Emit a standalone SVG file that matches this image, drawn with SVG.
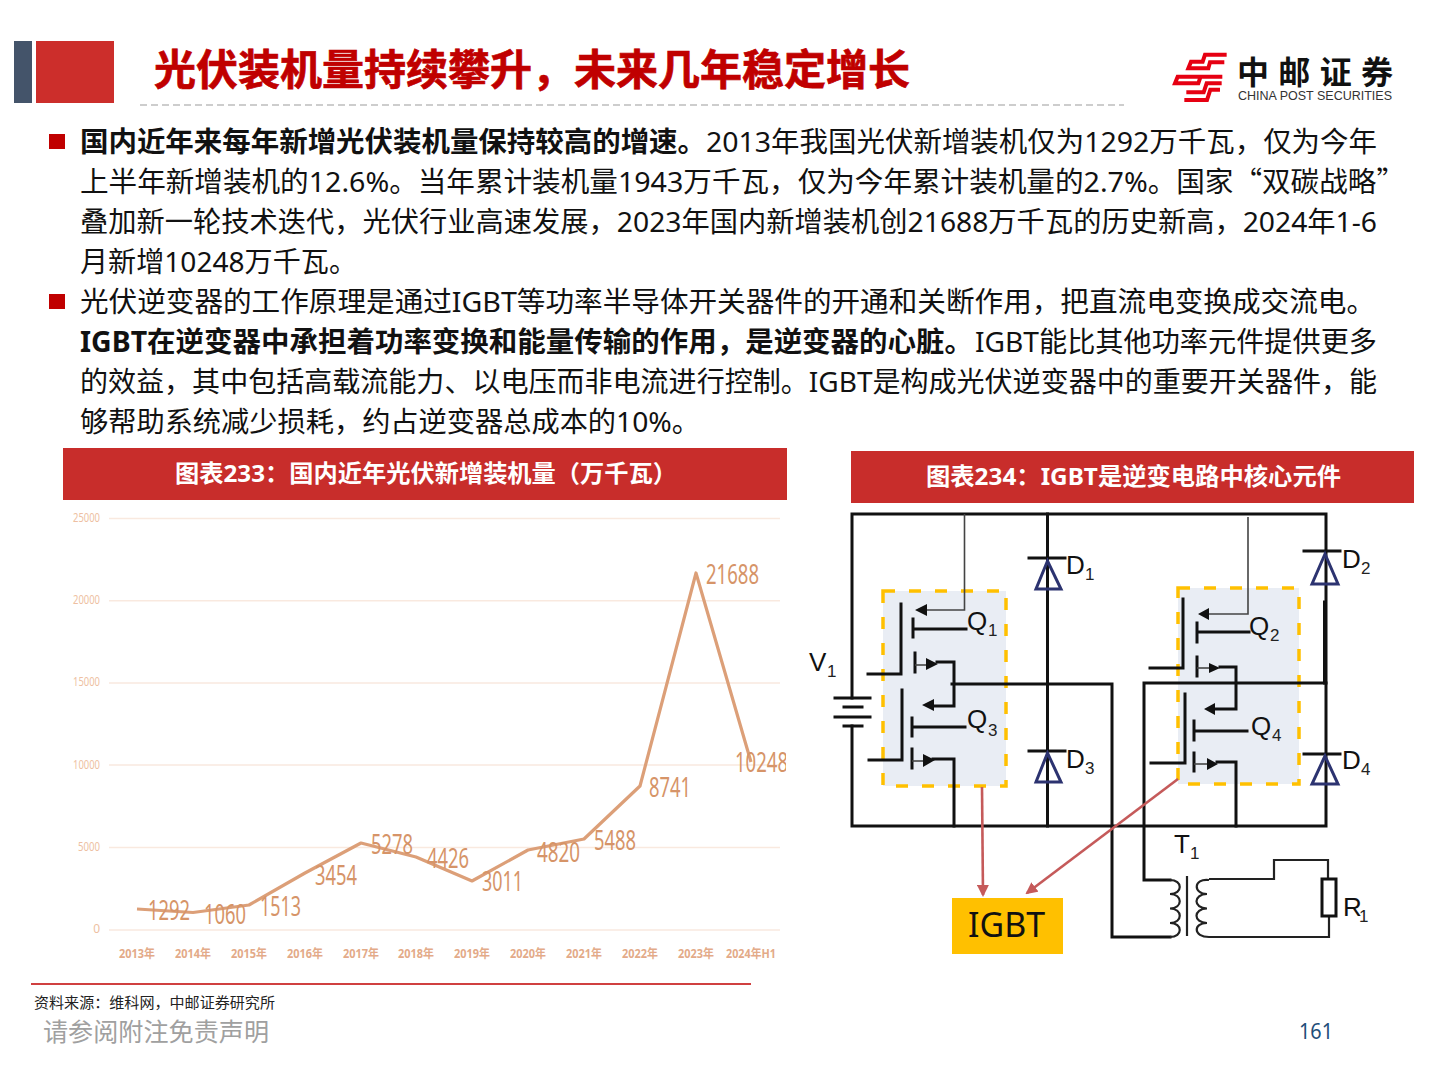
<svg xmlns="http://www.w3.org/2000/svg" width="1440" height="1080" viewBox="0 0 1440 1080">
<style>
text{font-family:"Noto Sans","Noto Sans CJK SC",sans-serif}
.b{font-size:28px;fill:#111}
.bb{font-size:28px;fill:#111;font-weight:700}
.q{font-family:"Noto Sans CJK SC",sans-serif}
.hd{font-size:24px;font-weight:700;fill:#fff}
.grid{stroke:#f9e9df;stroke-width:1.5}
.yl{font-size:12px;fill:#eebfa2;text-anchor:end}
.xl{font-size:12px;font-weight:700;fill:#e3aa88;text-anchor:middle}
.val{font-size:27px;fill:#d69468}
.w{fill:none;stroke:#111;stroke-width:3;stroke-linecap:square;stroke-linejoin:miter}
.thin{fill:none;stroke:#444;stroke-width:1.6}
.wt{fill:none;stroke:#222;stroke-width:2.2}
.box{fill:#e9edf4;stroke:#ffc000;stroke-width:3.5;stroke-dasharray:12 14}
.d{fill:none;stroke:#2c3370;stroke-width:3}
.ar{fill:#111}
.l{font-family:"Liberation Sans",sans-serif;font-size:26px;fill:#111}
.s{font-family:"Liberation Sans",sans-serif;font-size:17px;fill:#222}
.red{fill:none;stroke:#c55a5a;stroke-width:2.6;marker-end:url(#rh)}
.logo{fill:none;stroke:#e60012;stroke-width:12}
</style>
<defs>
<marker id="rh" viewBox="0 0 12 12" refX="10" refY="6" markerWidth="12" markerHeight="12" markerUnits="userSpaceOnUse" orient="auto"><path d="M0 0L12 6L0 12Z" fill="#c55a5a"/></marker>
<clipPath id="cl"><rect x="60" y="510" width="726" height="460"/></clipPath>
</defs>
<rect width="1440" height="1080" fill="#fff"/>

<g id="title-bar">
<rect x="14" y="41" width="18" height="62" fill="#44546a"/>
<rect x="36" y="41" width="78" height="62" fill="#cc2e2b"/>
<text x="154" y="85" font-size="42" font-weight="700" fill="#c00000" stroke="#c00000" stroke-width=".7" textLength="756" lengthAdjust="spacingAndGlyphs">光伏装机量持续攀升，未来几年稳定增长</text>
<line x1="140" y1="105" x2="1124" y2="105" stroke="#bdbdbd" stroke-width="1.5" stroke-dasharray="7 4"/>
</g>

<g id="logo">
<g transform="translate(1165 45) scale(.3333)">
<path class="logo" d="M185 29L120 29L113 50L78 50L70 70L130 70L135 52L178 52"/>
<path class="logo" d="M172 95L38 95L30 115L100 115L106 97"/>
<path class="logo" d="M170 115L125 115L116 142L64 142"/>
<path class="logo" d="M165 134L136 134L126 165L58 165"/>
</g>
<text x="1237" y="84" font-size="32" font-weight="700" fill="#111" textLength="156">中邮证券</text>
<text x="1238" y="100" font-size="12.5" fill="#333" style="font-family:'Liberation Sans',sans-serif" textLength="154" lengthAdjust="spacingAndGlyphs">CHINA POST SECURITIES</text>
</g>

<g id="body-text">
<rect x="49" y="134" width="16" height="15" fill="#c00000"/>
<rect x="49" y="294" width="16" height="15" fill="#c00000"/>
<text class="bb" x="80" y="152" textLength="626" lengthAdjust="spacingAndGlyphs">国内近年来每年新增光伏装机量保持较高的增速。</text>
<text class="b" x="706" y="152" textLength="671" lengthAdjust="spacingAndGlyphs">2013年我国光伏新增装机仅为1292万千瓦，仅为今年</text>
<text class="b" x="80" y="192" textLength="1325" lengthAdjust="spacingAndGlyphs">上半年新增装机的12.6%。当年累计装机量1943万千瓦，仅为今年累计装机量的2.7%。国家<tspan class="q">“</tspan>双碳战略<tspan class="q">”</tspan></text>
<text class="b" x="80" y="232" textLength="1297" lengthAdjust="spacingAndGlyphs">叠加新一轮技术迭代，光伏行业高速发展，2023年国内新增装机创21688万千瓦的历史新高，2024年1-6</text>
<text class="b" x="80" y="272" textLength="277" lengthAdjust="spacingAndGlyphs">月新增10248万千瓦。</text>
<text class="b" x="80" y="312" textLength="1295" lengthAdjust="spacingAndGlyphs">光伏逆变器的工作原理是通过IGBT等功率半导体开关器件的开通和关断作用，把直流电变换成交流电。</text>
<text class="bb" x="80" y="352" textLength="893" lengthAdjust="spacingAndGlyphs">IGBT在逆变器中承担着功率变换和能量传输的作用，是逆变器的心脏。</text>
<text class="b" x="975" y="352" textLength="402" lengthAdjust="spacingAndGlyphs">IGBT能比其他功率元件提供更多</text>
<text class="b" x="80" y="392" textLength="1297" lengthAdjust="spacingAndGlyphs">的效益，其中包括高载流能力、以电压而非电流进行控制。IGBT是构成光伏逆变器中的重要开关器件，能</text>
<text class="b" x="80" y="432" textLength="620" lengthAdjust="spacingAndGlyphs">够帮助系统减少损耗，约占逆变器总成本的10%。</text>
</g>

<g id="header-233">
<rect x="63" y="448" width="724" height="52" fill="#c82d2b"/>
<text class="hd" x="175" y="482" textLength="502" lengthAdjust="spacingAndGlyphs">图表233：国内近年光伏新增装机量（万千瓦）</text>
</g>
<g id="header-234">
<rect x="851" y="451" width="563" height="52" fill="#c82d2b"/>
<text class="hd" x="926" y="485" textLength="415" lengthAdjust="spacingAndGlyphs">图表234：IGBT是逆变电路中核心元件</text>
</g>

<g id="chart" clip-path="url(#cl)">
<g id="grid">
<line class="grid" x1="109" y1="518.5" x2="780" y2="518.5"/>
<line class="grid" x1="109" y1="600.7" x2="780" y2="600.7"/>
<line class="grid" x1="109" y1="683" x2="780" y2="683"/>
<line class="grid" x1="109" y1="765" x2="780" y2="765"/>
<line class="grid" x1="109" y1="847.5" x2="780" y2="847.5"/>
<line class="grid" x1="109" y1="930" x2="780" y2="930"/>
</g>
<g id="y-axis">
<text class="yl" x="100" y="522" textLength="27" lengthAdjust="spacingAndGlyphs">25000</text>
<text class="yl" x="100" y="604" textLength="27" lengthAdjust="spacingAndGlyphs">20000</text>
<text class="yl" x="100" y="686" textLength="27" lengthAdjust="spacingAndGlyphs">15000</text>
<text class="yl" x="100" y="769" textLength="27" lengthAdjust="spacingAndGlyphs">10000</text>
<text class="yl" x="100" y="851" textLength="22" lengthAdjust="spacingAndGlyphs">5000</text>
<text class="yl" x="100" y="933">0</text>
</g>
<g id="x-axis">
<text class="xl" x="137" y="958" textLength="36" lengthAdjust="spacingAndGlyphs">2013年</text>
<text class="xl" x="193" y="958" textLength="36" lengthAdjust="spacingAndGlyphs">2014年</text>
<text class="xl" x="249" y="958" textLength="36" lengthAdjust="spacingAndGlyphs">2015年</text>
<text class="xl" x="305" y="958" textLength="36" lengthAdjust="spacingAndGlyphs">2016年</text>
<text class="xl" x="361" y="958" textLength="36" lengthAdjust="spacingAndGlyphs">2017年</text>
<text class="xl" x="416" y="958" textLength="36" lengthAdjust="spacingAndGlyphs">2018年</text>
<text class="xl" x="472" y="958" textLength="36" lengthAdjust="spacingAndGlyphs">2019年</text>
<text class="xl" x="528" y="958" textLength="36" lengthAdjust="spacingAndGlyphs">2020年</text>
<text class="xl" x="584" y="958" textLength="36" lengthAdjust="spacingAndGlyphs">2021年</text>
<text class="xl" x="640" y="958" textLength="36" lengthAdjust="spacingAndGlyphs">2022年</text>
<text class="xl" x="696" y="958" textLength="36" lengthAdjust="spacingAndGlyphs">2023年</text>
<text class="xl" x="751" y="958" textLength="50" lengthAdjust="spacingAndGlyphs">2024年H1</text>
</g>
<polyline id="series" points="137,909 193,912.5 249,905 305,873 361,843 416,857 472,881 528,850 584,839 640,786 696,573 751,762" fill="none" stroke="#dc9f78" stroke-width="3.2" stroke-linejoin="round"/>
<g id="values">
<text class="val" x="148" y="920" textLength="42" lengthAdjust="spacingAndGlyphs">1292</text>
<text class="val" x="204" y="924" textLength="42" lengthAdjust="spacingAndGlyphs">1060</text>
<text class="val" x="260" y="916" textLength="41" lengthAdjust="spacingAndGlyphs">1513</text>
<text class="val" x="315" y="885" textLength="42" lengthAdjust="spacingAndGlyphs">3454</text>
<text class="val" x="371" y="854" textLength="42" lengthAdjust="spacingAndGlyphs">5278</text>
<text class="val" x="427" y="868" textLength="42" lengthAdjust="spacingAndGlyphs">4426</text>
<text class="val" x="482" y="891" textLength="41" lengthAdjust="spacingAndGlyphs">3011</text>
<text class="val" x="537" y="862" textLength="43" lengthAdjust="spacingAndGlyphs">4820</text>
<text class="val" x="594" y="850" textLength="42" lengthAdjust="spacingAndGlyphs">5488</text>
<text class="val" x="649" y="797" textLength="42" lengthAdjust="spacingAndGlyphs">8741</text>
<text class="val" x="706" y="584" textLength="53" lengthAdjust="spacingAndGlyphs">21688</text>
<text class="val" x="735" y="772" textLength="53" lengthAdjust="spacingAndGlyphs">10248</text>
</g>
</g>

<g id="footer">
<line x1="31" y1="984" x2="751" y2="984" stroke="#c00000" stroke-width="1.6"/>
<text x="34" y="1008" font-size="15" fill="#222" textLength="241" lengthAdjust="spacingAndGlyphs">资料来源：维科网，中邮证券研究所</text>
<text x="43" y="1041" font-size="25" fill="#a0a0a0" textLength="226" lengthAdjust="spacingAndGlyphs">请参阅附注免责声明</text>
<text x="1299" y="1039" font-size="21" fill="#1f4e79" textLength="34" lengthAdjust="spacingAndGlyphs">161</text>
</g>

<g id="q1q3-box"><rect class="box" x="883" y="591" width="123" height="195"/></g>
<g id="q2q4-box"><rect class="box" x="1178" y="588" width="121" height="196"/></g>

<g id="connectors">
<path class="w" d="M852 698V514H1326V826H852V726"/>
<path class="w" d="M1047.5 514V826"/>
<path class="w" d="M1324.5 602V683"/>
<path class="w" d="M952 684H1112V937H1170"/>
<path class="w" d="M1326 683H1144V880H1170"/>
<path class="thin" d="M964.5 514V610H925"/>
<path class="thin" d="M1248 517V614H1208"/>
<path class="wt" d="M1209 879H1274V860H1328V879M1329 916V937H1209"/>
<path class="wt" d="M1187 876V936" stroke-width="3"/>
<path class="red" d="M982 787L983 895"/>
<path class="red" d="M1178 779L1027 893"/>
</g>

<g id="battery-V1">
<path class="w" d="M835 698H870M844 707H862M835 717H870M844 726H862"/>
<text class="l" x="809" y="671">V</text><text class="s" x="827" y="677">1</text>
</g>

<g id="Q1">
<path class="w" d="M901 604V674H868M913 619V637M913 629H966M915 653V672"/>
<path class="thin" d="M915 665H927"/>
<path class="w" d="M937 662H954V706H932"/>
<path class="ar" d="M915 610L927 604V616Z M938 664L926 658V670Z M922 705L934 699V711Z"/>
<text class="l" x="967" y="630">Q</text><text class="s" x="988" y="636">1</text>
</g>
<g id="Q3">
<path class="w" d="M902 690V760H869M912 718V736M912 727H965M912 749V768"/>
<path class="thin" d="M912 761H924"/>
<path class="w" d="M933 759H954V826"/>
<path class="ar" d="M935 760L923 754V767Z"/>
<text class="l" x="967" y="728">Q</text><text class="s" x="988" y="736">3</text>
</g>
<g id="Q2">
<path class="w" d="M1183 599V668H1150M1197 623V642M1197 632H1249M1197 657V676"/>
<path class="thin" d="M1197 668H1210"/>
<path class="w" d="M1220 667H1236V709H1214"/>
<path class="ar" d="M1198 614L1209 608V620Z M1220 668L1209 663V673Z M1204 709L1215 703V715Z"/>
<text class="l" x="1249" y="635">Q</text><text class="s" x="1270" y="641">2</text>
</g>
<g id="Q4">
<path class="w" d="M1185 694V763H1151M1194 721V740M1194 731H1247M1194 753V771"/>
<path class="thin" d="M1194 764H1207"/>
<path class="w" d="M1217 762H1236V826"/>
<path class="ar" d="M1218 764L1207 758V770Z"/>
<text class="l" x="1251" y="735">Q</text><text class="s" x="1272" y="741">4</text>
</g>

<g id="D1"><path class="w" d="M1029 558H1065"/><path class="d" d="M1047.500 561L1036 589H1061Z"/><text class="l" x="1066" y="574">D</text><text class="s" x="1085" y="580">1</text></g>
<g id="D3"><path class="w" d="M1029 751H1065"/><path class="d" d="M1047.500 753L1036 782H1061Z"/><text class="l" x="1066" y="768">D</text><text class="s" x="1085" y="774">3</text></g>
<g id="D2"><path class="w" d="M1304 551H1340"/><path class="d" d="M1325 554L1312 584H1338Z"/><text class="l" x="1342" y="568">D</text><text class="s" x="1361" y="574">2</text></g>
<g id="D4"><path class="w" d="M1304 754H1340"/><path class="d" d="M1325 756L1312 784H1338Z"/><text class="l" x="1342" y="769">D</text><text class="s" x="1361" y="775">4</text></g>

<g id="T1">
<path class="wt" d="M1170 880C1183 880 1183 894 1170 894C1183 894 1183 908.500 1170 908.500C1183 908.500 1183 923 1170 923C1183 923 1183 937 1170 937"/>
<path class="wt" d="M1209 880C1193 878 1193 894 1207 894C1193 894 1193 908.500 1207 908.500C1193 908.500 1193 923 1207 923C1193 923 1193 937 1209 937"/>
<text class="l" x="1174" y="853">T</text><text class="s" x="1190" y="859">1</text>
</g>
<g id="R1">
<rect x="1322" y="879" width="14" height="37" fill="#fff" stroke="#111" stroke-width="3"/>
<text class="l" x="1343" y="916">R</text><text class="s" x="1359" y="922">1</text>
</g>
<g id="IGBT">
<rect x="952" y="898" width="111" height="56" fill="#ffc000"/>
<text x="968" y="937" font-size="34" fill="#111" textLength="77" lengthAdjust="spacingAndGlyphs">IGBT</text>
</g>
</svg>
